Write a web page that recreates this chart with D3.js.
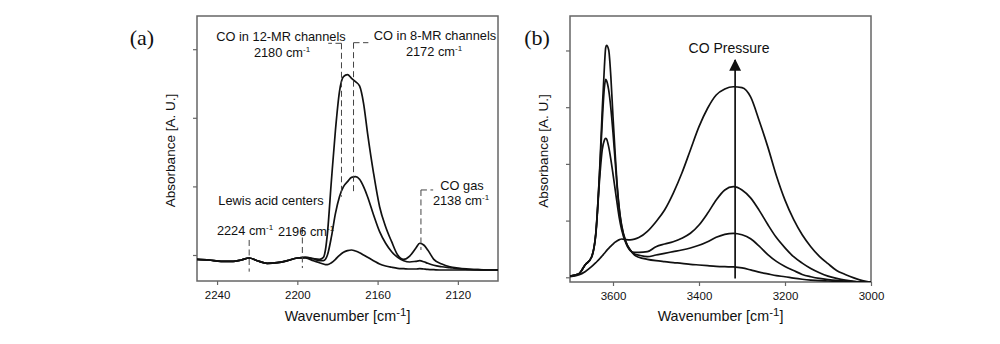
<!DOCTYPE html>
<html><head><meta charset="utf-8">
<script src="https://cdn.jsdelivr.net/npm/d3@7"></script>
<style>
html,body{margin:0;padding:0;background:#fff;}
svg text{font-family:"Liberation Sans",Arial,sans-serif;fill:#111;}
</style></head>
<body><svg id="c" width="1000" height="344"></svg>
<script>
// ---------- Panel (a) data ----------
const waveA = [2250,2244,2238,2232,2228,2224,2220,2215,2210,2205,2200,2196,2192,2189,2187,2186,2185,2183,2181,2179,2177,2175,2173,2171,2169,2167,2165,2162,2159,2156,2153,2150,2147,2144,2141,2139,2137,2135,2132,2128,2124,2120,2115,2110,2105,2100];
const absA_high = [-0.063,-0.073,-0.092,-0.092,-0.073,-0.044,-0.083,-0.121,-0.112,-0.083,-0.044,-0.034,-0.054,-0.063,-0.034,0.073,0.316,1.093,1.822,2.381,2.599,2.628,2.576,2.526,2.464,2.211,1.774,1.191,0.704,0.413,0.194,0.000,-0.063,-0.015,0.098,0.171,0.146,0.073,-0.063,-0.131,-0.171,-0.190,-0.204,-0.214,-0.219,-0.219];
const absA_mid = [-0.063,-0.073,-0.092,-0.092,-0.073,-0.044,-0.083,-0.121,-0.112,-0.083,-0.044,-0.034,-0.054,-0.083,-0.083,-0.063,0.000,0.267,0.607,0.850,0.996,1.069,1.132,1.142,1.103,0.996,0.850,0.583,0.340,0.171,0.048,-0.034,-0.083,-0.102,-0.092,-0.083,-0.098,-0.121,-0.150,-0.171,-0.185,-0.199,-0.209,-0.214,-0.219,-0.219];
const absA_low = [-0.063,-0.073,-0.092,-0.092,-0.073,-0.044,-0.083,-0.121,-0.112,-0.083,-0.044,-0.044,-0.083,-0.112,-0.131,-0.141,-0.141,-0.112,-0.063,-0.005,0.039,0.063,0.073,0.058,0.034,0.000,-0.034,-0.083,-0.131,-0.160,-0.179,-0.194,-0.199,-0.204,-0.204,-0.199,-0.204,-0.209,-0.214,-0.219,-0.219,-0.219,-0.219,-0.219,-0.219,-0.219];
const ticksA_x = [2240,2200,2160,2120];
const ticksA_y = [0,1,2,3];
// annotation marker lines: wavenumber, top value, bottom value, end of the short horizontal hook
const annA_wave = [2224, 2197.5, 2178, 2172, 2138.4];
const annA_top = [0.219, 0.394, 3.086, 3.095, 0.948];
const annA_bot = [-0.243, -0.19, 0.85, 0.904, 0.073];
const annA_hookTo = [null, null, 2184.6, 2164.6, 2132.3];
const annA_texts = ["CO in 12-MR channels", "CO in 8-MR channels", "Lewis acid centers", "CO gas"];
const annA_numbers = [2180, 2172, 2224, 2196, 2138];

// ---------- Panel (b) data ----------
const waveB = [3700,3680,3665,3650,3640,3630,3625,3620,3617,3615,3610,3605,3600,3595,3590,3585,3580,3570,3560,3550,3540,3520,3500,3480,3460,3440,3420,3400,3380,3360,3340,3320,3300,3280,3260,3240,3220,3200,3180,3160,3140,3120,3100,3080,3060,3040,3020,3000];
const absB_p0 = [0.023,0.058,0.217,0.353,0.776,2.069,2.951,3.714,4.05,4.09,4.009,3.538,2.832,2.187,1.598,1.187,0.922,0.628,0.481,0.393,0.353,0.317,0.293,0.275,0.258,0.247,0.229,0.217,0.205,0.194,0.187,0.182,0.165,0.13,0.09,0.06,0.03,0.01,-0.015,-0.035,-0.05,-0.06,-0.065,-0.07,-0.075,-0.08,-0.085,-0.09];
const absB_p1 = [0.023,0.058,0.217,0.353,0.776,2.0,2.75,3.35,3.49,3.47,3.3,2.98,2.55,2.05,1.55,1.17,0.9,0.62,0.48,0.41,0.39,0.363,0.393,0.423,0.452,0.481,0.517,0.564,0.628,0.705,0.758,0.776,0.75,0.68,0.55,0.40,0.28,0.19,0.12,0.05,0.01,-0.02,-0.04,-0.055,-0.065,-0.075,-0.085,-0.09];
const absB_p2 = [0.023,0.058,0.217,0.353,0.75,1.85,2.25,2.42,2.45,2.44,2.3,2.08,1.82,1.55,1.28,1.03,0.84,0.6,0.47,0.44,0.44,0.452,0.54,0.587,0.628,0.688,0.776,0.922,1.129,1.363,1.54,1.598,1.54,1.40,1.18,0.93,0.70,0.52,0.363,0.25,0.155,0.08,0.02,-0.02,-0.05,-0.07,-0.085,-0.095];
const absB_p3 = [0.011,0.041,0.099,0.187,0.258,0.335,0.38,0.423,0.45,0.47,0.511,0.55,0.587,0.62,0.646,0.665,0.675,0.665,0.66,0.672,0.70,0.81,0.981,1.187,1.481,1.834,2.245,2.656,2.981,3.215,3.321,3.36,3.344,3.18,2.76,2.30,1.79,1.36,1.02,0.75,0.54,0.37,0.24,0.12,0.05,-0.01,-0.06,-0.09];
const ticksB_x = [3600,3400,3200,3000];
const ticksB_y = [0,1,2,3,4];
const arrowB_wave = 3316;
const arrowB_from = -0.02, arrowB_to = 3.83;

const svg = d3.select("#c");
const ink = "#111";
const frameCol = "#666";

function sup(textSel, base, supTxt, supSize, dy){
  textSel.append("tspan").text(base);
  textSel.append("tspan").text(supTxt).attr("font-size", supSize).attr("dy", -dy);
}

function panel(opts){
  const g = svg.append("g");
  const x = d3.scaleLinear().domain(opts.xdom).range([opts.x0, opts.x1]);
  const y = d3.scaleLinear().domain(opts.ydom).range([opts.y1, opts.y0]);
  const ax = g.append("g").attr("transform", `translate(0,${opts.y1})`)
    .call(d3.axisBottom(x).tickValues(opts.xt).tickSize(4).tickSizeOuter(0).tickPadding(6).tickFormat(d3.format("d")));
  const ay = g.append("g").attr("transform", `translate(${opts.x0},0)`)
    .call(d3.axisLeft(y).tickValues(opts.yt).tickSize(4).tickSizeOuter(0).tickFormat(""));
  [ax, ay].forEach(a => {
    a.select(".domain").remove();
    a.selectAll("line").attr("stroke", frameCol).attr("stroke-width", 1.2);
    a.selectAll("text").attr("font-size", 11.5).attr("fill", ink).attr("font-family", "Liberation Sans, Arial, sans-serif");
  });
  g.append("rect").attr("x", opts.x0).attr("y", opts.y0).attr("width", opts.x1-opts.x0).attr("height", opts.y1-opts.y0)
    .attr("fill", "none").attr("stroke", frameCol).attr("stroke-width", 1.5);
  const clipId = "clip" + opts.id;
  svg.append("clipPath").attr("id", clipId).append("rect")
    .attr("x", opts.x0).attr("y", opts.y0).attr("width", opts.x1-opts.x0).attr("height", opts.y1-opts.y0);
  const line = d3.line().x((d,i)=>x(opts.wave[i])).y(d=>y(d)).curve(d3.curveMonotoneX);
  g.append("g").attr("clip-path", `url(#${clipId})`).selectAll("path").data(opts.series).join("path")
    .attr("d", line).attr("fill", "none").attr("stroke", ink).attr("stroke-width", 1.7).attr("stroke-linejoin","round");
  const xt = g.append("text").attr("x", (opts.x0+opts.x1)/2).attr("y", 321).attr("text-anchor","middle").attr("font-size", 14.3);
  sup(xt, "Wavenumber [cm", "-1", 11.5, 5);
  xt.append("tspan").text("]").attr("dy", 5);
  g.append("text").attr("transform", `translate(${opts.x0-22},${(opts.y0+opts.y1)/2 + 2}) rotate(-90)`)
    .attr("text-anchor","middle").attr("font-size", 13.5).text("Absorbance [A. U.]");
  g.append("text").attr("x", opts.tagX).attr("y", 45).attr("text-anchor","middle")
    .attr("font-size", 22).text(opts.tag)
    .style("font-family","'Liberation Serif','Times New Roman',serif");
  return {g, x, y};
}

// ----- Panel a -----
const A = panel({id:"a", x0:197, x1:498, y0:16, y1:281, xdom:[2250,2100], ydom:[-0.379,3.484],
  xt:ticksA_x, yt:ticksA_y, wave:waveA, series:[absA_high, absA_mid, absA_low], tag:"(a)", tagX:142});

const dash = "6,3.5";
annA_wave.forEach((w,i)=>{
  A.g.append("line").attr("x1",A.x(w)).attr("x2",A.x(w)).attr("y1",A.y(annA_top[i])).attr("y2",A.y(annA_bot[i]))
    .attr("stroke","#444").attr("stroke-width",1).attr("stroke-dasharray",dash);
  if (annA_hookTo[i] !== null) {
    A.g.append("line").attr("x1",A.x(w)).attr("x2",A.x(annA_hookTo[i])).attr("y1",A.y(annA_top[i])).attr("y2",A.y(annA_top[i]))
      .attr("stroke","#444").attr("stroke-width",1).attr("stroke-dasharray",dash);
  }
});
const fs = 12.8;
function label(g, cx, by, txt, size){
  return g.append("text").attr("x",cx).attr("y",by).attr("text-anchor","middle").attr("font-size",size||fs).text(txt);
}
function wnLabel(g, cx, by, num){
  const t = g.append("text").attr("x",cx).attr("y",by).attr("text-anchor","middle").attr("font-size",fs);
  sup(t, num + " cm", "-1", 8, 5);
  return t;
}
label(A.g, 281, 41, annA_texts[0]);
wnLabel(A.g, 282, 57, annA_numbers[0]);
label(A.g, 435, 40, annA_texts[1]);
wnLabel(A.g, 434, 56, annA_numbers[1]);
label(A.g, 271, 205, annA_texts[2]);
wnLabel(A.g, 245, 235, annA_numbers[2]);
wnLabel(A.g, 306, 236, annA_numbers[3]);
label(A.g, 462, 190, annA_texts[3]);
wnLabel(A.g, 461, 205, annA_numbers[4]);

// ----- Panel b -----
const B = panel({id:"b", x0:570, x1:871, y0:16, y1:282, xdom:[3700,3000], ydom:[-0.083,4.608],
  xt:ticksB_x, yt:ticksB_y, wave:waveB, series:[absB_p0, absB_p1, absB_p2, absB_p3], tag:"(b)", tagX:537});

svg.append("defs").append("marker").attr("id","arr").attr("viewBox","0 0 10 10").attr("refX",9).attr("refY",5)
  .attr("markerWidth",7).attr("markerHeight",9).attr("orient","auto")
  .append("path").attr("d","M0,0 L10,5 L0,10 z").attr("fill",ink);
B.g.append("line").attr("x1",B.x(arrowB_wave)).attr("x2",B.x(arrowB_wave))
  .attr("y1",B.y(arrowB_from)).attr("y2",B.y(arrowB_to))
  .attr("stroke",ink).attr("stroke-width",1.7).attr("marker-end","url(#arr)");
label(B.g, 729, 53, "CO Pressure", 14);
</script></body></html>
